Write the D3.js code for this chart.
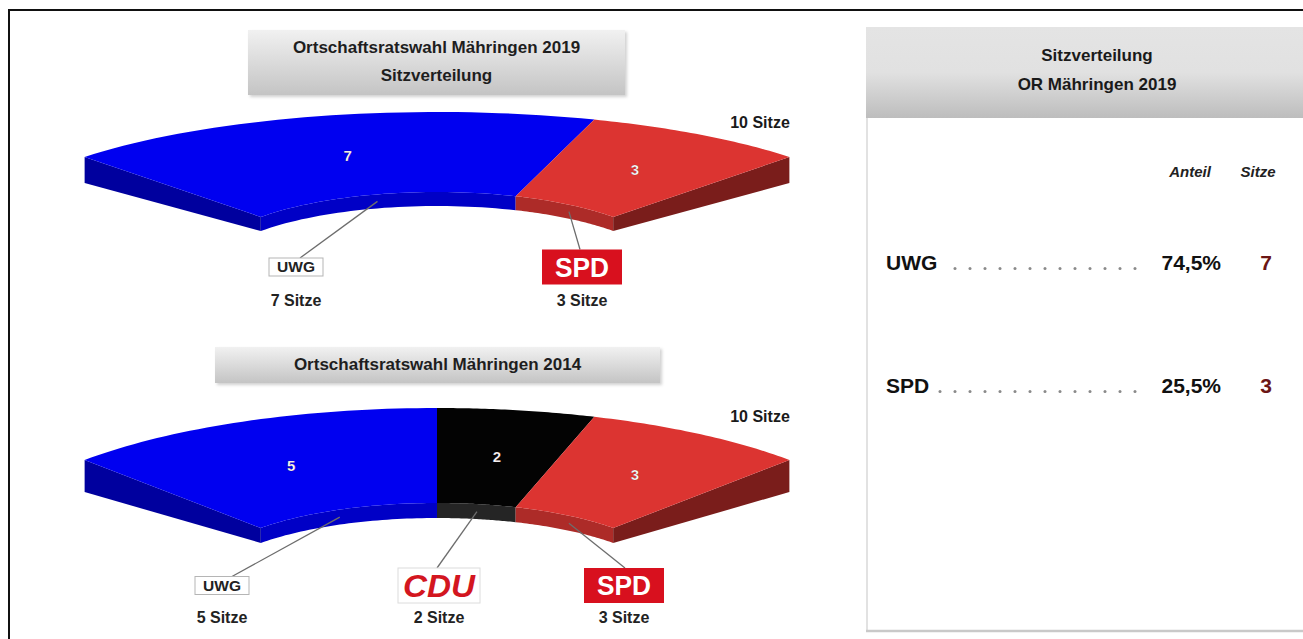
<!DOCTYPE html>
<html>
<head>
<meta charset="utf-8">
<script src="https://cdn.jsdelivr.net/npm/d3@7"></script>
<style>
    body { margin: 0; background: #fff; }
    svg { display: block; font-family: "Liberation Sans", Arial, sans-serif; }
</style>
</head>
<body>
<div id="chart"></div>
<script>
// 2019 result
const parties2019 = ['UWG', 'SPD'];
const seats2019 = [7, 3];

// 2014 result
const parties2014 = ['UWG', 'CDU', 'SPD'];
const seats2014 = [5, 2, 3];

// table on the right
const tableParties = ['UWG', 'SPD'];
const tableShare = [74.5, 25.5];
const tableSeats = [7, 3];
const tableColumns = ['Anteil', 'Sitze'];

const W = 1303, H = 639;

const colors = {
    UWG: {top: '#0000f0', wall: '#0000c6', end: '#00009e'},
    CDU: {top: '#030303', wall: '#252525', end: '#151515'},
    SPD: {top: '#dc3431', wall: '#ad2b28', end: '#7a1d1b'}
};

const svg = d3.select('#chart').append('svg')
    .attr('width', W)
    .attr('height', H);

const defs = svg.append('defs');

const titleGrad = defs.append('linearGradient')
    .attr('id', 'titleGrad').attr('x1', 0).attr('y1', 0).attr('x2', 0).attr('y2', 1);
titleGrad.append('stop').attr('offset', '0%').attr('stop-color', '#f1f1f1');
titleGrad.append('stop').attr('offset', '100%').attr('stop-color', '#c4c4c4');

const headGrad = defs.append('linearGradient')
    .attr('id', 'headGrad').attr('x1', 0).attr('y1', 0).attr('x2', 0).attr('y2', 1);
headGrad.append('stop').attr('offset', '0%').attr('stop-color', '#e4e4e4');
headGrad.append('stop').attr('offset', '50%').attr('stop-color', '#e1e1e1');
headGrad.append('stop').attr('offset', '100%').attr('stop-color', '#bdbdbd');

const shadow = defs.append('filter').attr('id', 'shadow')
    .attr('x', '-10%').attr('y', '-10%').attr('width', '130%').attr('height', '140%');
shadow.append('feDropShadow')
    .attr('dx', 2).attr('dy', 2).attr('stdDeviation', 1.5)
    .attr('flood-color', '#000').attr('flood-opacity', 0.18);

// outer frame
svg.append('path')
    .attr('d', 'M9,' + H + 'V10H' + W)
    .attr('fill', 'none')
    .attr('stroke', '#111')
    .attr('stroke-width', 2);

/***************************************************************************
 * Half rings
 **************************************************************************/

const drawRing = function drawRing(parties, seats, geo) {
    const g = svg.append('g');
    const total = d3.sum(seats);
    const bounds = d3.cumsum([0].concat(seats));

    const angle = d3.scaleLinear().domain([0, total]).range([140, 40]);
    // t = 0 inner edge, t = 1 outer edge
    const ra = d3.scaleLinear().domain([0, 1]).range([geo.inner.a, geo.outer.a]);
    const rb = d3.scaleLinear().domain([0, 1]).range([geo.inner.b, geo.outer.b]);
    const rc = d3.scaleLinear().domain([0, 1]).range([geo.inner.c, geo.outer.c]);
    const rd = d3.scaleLinear().domain([0, 1]).range([geo.inner.d, geo.outer.d]);

    const pt = (deg, t, down) => {
        const rad = deg * Math.PI / 180;
        return [geo.cx + ra(t) * Math.cos(rad), rb(t) - rc(t) * Math.sin(rad) + down * rd(t)];
    };
    const arc = (d0, d1, t, down) => {
        return d3.range(41).map((k) => { return pt(d0 + (d1 - d0) * k / 40, t, down) });
    };
    const line = d3.line();
    const shape = (pts) => { return line(pts) + 'Z' };

    const segs = parties.map((p, i) => {
        return {party: p, seats: seats[i], a0: angle(bounds[i]), a1: angle(bounds[i + 1])};
    });

    // side faces
    segs.forEach((s, i) => {
        g.append('path')
            .attr('d', shape(arc(s.a0, s.a1, 0, 0).concat(arc(s.a1, s.a0, 0, 1))))
            .attr('fill', colors[s.party].wall);
        if (i === 0) {
            g.append('path')
                .attr('d', shape([pt(s.a0, 1, 0), pt(s.a0, 0, 0), pt(s.a0, 0, 1), pt(s.a0, 1, 1)]))
                .attr('fill', colors[s.party].end);
        }
        if (i === segs.length - 1) {
            g.append('path')
                .attr('d', shape([pt(s.a1, 1, 0), pt(s.a1, 0, 0), pt(s.a1, 0, 1), pt(s.a1, 1, 1)]))
                .attr('fill', colors[s.party].end);
        }
    });

    // top faces
    g.selectAll('.top')
        .data(segs)
        .enter()
    .append('path')
        .attr('class', 'top')
        .attr('d', (d) => { return shape(arc(d.a0, d.a1, 1, 0).concat(arc(d.a1, d.a0, 0, 0))) })
        .attr('fill', (d) => { return colors[d.party].top });

    // seat numbers on the ring
    g.selectAll('.num')
        .data(segs)
        .enter()
    .append('text')
        .attr('class', 'num')
        .attr('x', (d) => { return pt((d.a0 + d.a1) / 2, 0.5, 0)[0] })
        .attr('y', (d) => { return pt((d.a0 + d.a1) / 2, 0.5, 0)[1] })
        .attr('dy', '0.35em')
        .attr('text-anchor', 'middle')
        .style('font', 'bold 15px "Liberation Sans", Arial, sans-serif')
        .style('fill', '#fff')
        .style('stroke', 'rgba(60,0,0,0.35)')
        .style('stroke-width', 0.6)
        .text((d) => { return d.seats });

    // total
    g.append('text')
        .attr('x', 760)
        .attr('y', geo.totalY)
        .attr('text-anchor', 'middle')
        .style('font', 'bold 16px "Liberation Sans", Arial, sans-serif')
        .style('fill', '#1a1a1a')
        .text(total + ' Sitze');

    // labels with leader lines
    segs.forEach((s, i) => {
        const lx = geo.labelX[i];
        const cy = geo.labelY;
        const box = s.party === 'UWG' ? {w: 54, h: 18} : {w: 82, h: 35};
        const from = pt((s.a0 + s.a1) / 2, 0, 0.5);

        g.append('line')
            .attr('x1', from[0]).attr('y1', from[1])
            .attr('x2', lx + geo.leadDx[i]).attr('y2', cy - box.h / 2)
            .attr('stroke', '#6d6d6d')
            .attr('stroke-width', 1.3);

        if (s.party === 'UWG') {
            g.append('rect')
                .attr('x', lx - box.w / 2).attr('y', cy - box.h / 2)
                .attr('width', box.w).attr('height', box.h)
                .attr('fill', '#fff').attr('stroke', '#b5b5b5');
            g.append('text')
                .attr('x', lx).attr('y', cy).attr('dy', '0.36em')
                .attr('text-anchor', 'middle')
                .attr('textLength', 38).attr('lengthAdjust', 'spacingAndGlyphs')
                .style('font', 'bold 15px "Liberation Sans", Arial, sans-serif')
                .style('fill', '#222')
                .text('UWG');
        } else if (s.party === 'SPD') {
            g.append('rect')
                .attr('x', lx - box.w / 2 + 1).attr('y', cy - box.h / 2)
                .attr('width', box.w - 2).attr('height', box.h)
                .attr('fill', '#d8101e');
            g.append('text')
                .attr('x', lx).attr('y', cy).attr('dy', '0.36em')
                .attr('text-anchor', 'middle')
                .attr('textLength', 54).attr('lengthAdjust', 'spacingAndGlyphs')
                .style('font', 'bold 27px "Liberation Sans", Arial, sans-serif')
                .style('fill', '#fff')
                .text('SPD');
        } else {
            g.append('rect')
                .attr('x', lx - box.w / 2).attr('y', cy - box.h / 2)
                .attr('width', box.w).attr('height', box.h)
                .attr('fill', '#fff').attr('stroke', '#dcdcdc');
            g.append('text')
                .attr('x', lx).attr('y', cy).attr('dy', '0.36em')
                .attr('text-anchor', 'middle')
                .attr('textLength', 72).attr('lengthAdjust', 'spacingAndGlyphs')
                .style('font', 'italic bold 31px "Liberation Sans", Arial, sans-serif')
                .style('fill', '#d3161f')
                .text('CDU');
        }

        g.append('text')
            .attr('x', lx).attr('y', geo.sitzeY)
            .attr('text-anchor', 'middle')
            .style('font', 'bold 16px "Liberation Sans", Arial, sans-serif')
            .style('fill', '#222')
            .text(s.seats + ' Sitze');
    });
};

const titleBox = function titleBox(x, y, w, h, lines) {
    svg.append('rect')
        .attr('x', x).attr('y', y).attr('width', w).attr('height', h)
        .attr('fill', 'url(#titleGrad)')
        .attr('filter', 'url(#shadow)');
    lines.forEach((t, i) => {
        svg.append('text')
            .attr('x', x + w / 2)
            .attr('y', y + 23 + i * 28)
            .attr('text-anchor', 'middle')
            .style('font', 'bold 17px "Liberation Sans", Arial, sans-serif')
            .style('fill', '#1e1e1e')
            .text(t);
    });
};

titleBox(248, 30, 377, 65, ['Ortschaftsratswahl Mähringen 2019', 'Sitzverteilung']);
titleBox(215, 347, 445, 36, ['Ortschaftsratswahl Mähringen 2014']);

drawRing(parties2019, seats2019, {
    cx: 437,
    outer: {a: 460, b: 238, c: 126, d: 26},
    inner: {a: 230, b: 262, c: 70, d: 14},
    totalY: 128,
    labelX: [296, 582],
    leadDx: [4, -2],
    labelY: 267,
    sitzeY: 306
});

drawRing(parties2014, seats2014, {
    cx: 437,
    outer: {a: 460, b: 553.6, c: 145.6, d: 32},
    inner: {a: 230, b: 573, c: 70, d: 15},
    totalY: 422,
    labelX: [222, 439, 624],
    leadDx: [10, -2, 1],
    labelY: 585.5,
    sitzeY: 623
});

/***************************************************************************
 * Table
 **************************************************************************/

const panel = svg.append('g');

panel.append('rect')
    .attr('x', 866).attr('y', 27).attr('width', W - 866).attr('height', 91)
    .attr('fill', 'url(#headGrad)');

panel.append('line')
    .attr('x1', 867).attr('x2', 867).attr('y1', 118).attr('y2', 632)
    .attr('stroke', '#e2e2e2').attr('stroke-width', 2);
panel.append('line')
    .attr('x1', 866).attr('x2', W).attr('y1', 631).attr('y2', 631)
    .attr('stroke', '#c9c9c9').attr('stroke-width', 2.5);

['Sitzverteilung', 'OR Mähringen 2019'].forEach((t, i) => {
    panel.append('text')
        .attr('x', 1097).attr('y', 61 + i * 29)
        .attr('text-anchor', 'middle')
        .style('font', 'bold 17px "Liberation Sans", Arial, sans-serif')
        .style('fill', '#1a1a1a')
        .text(t);
});

const colX = d3.scalePoint().domain(tableColumns).range([1190, 1258]);

panel.selectAll('.colhead')
    .data(tableColumns)
    .enter()
.append('text')
    .attr('class', 'colhead')
    .attr('x', (d) => { return colX(d) })
    .attr('y', 177)
    .attr('text-anchor', 'middle')
    .style('font', 'italic bold 15px "Liberation Sans", Arial, sans-serif')
    .style('fill', '#222')
    .text((d) => { return d });

const rowY = d3.scalePoint().domain(tableParties).range([270, 393]);
const fmtShare = (v) => { return d3.format('.1f')(v).replace('.', ',') + '%' };

tableParties.forEach((p, i) => {
    const y = rowY(p);
    const name = panel.append('text')
        .attr('x', 886).attr('y', y)
        .style('font', 'bold 21px "Liberation Sans", Arial, sans-serif')
        .style('fill', '#111')
        .text(p);
    const end = 886 + name.node().getComputedTextLength();

    // leader dots, laid out from the right
    const dots = d3.range(1135, end + 5, -15);
    panel.selectAll('.dot' + i)
        .data(dots)
        .enter()
    .append('circle')
        .attr('cx', (d) => { return d })
        .attr('cy', y - 1.5)
        .attr('r', 1.5)
        .attr('fill', '#8a8a8a');

    panel.append('text')
        .attr('x', 1221).attr('y', y)
        .attr('text-anchor', 'end')
        .style('font', 'bold 21px "Liberation Sans", Arial, sans-serif')
        .style('fill', '#111')
        .text(fmtShare(tableShare[i]));

    panel.append('text')
        .attr('x', 1266).attr('y', y)
        .attr('text-anchor', 'middle')
        .style('font', 'bold 21px "Liberation Sans", Arial, sans-serif')
        .style('fill', '#6b1515')
        .text(tableSeats[i]);
});
</script>
</body>
</html>
